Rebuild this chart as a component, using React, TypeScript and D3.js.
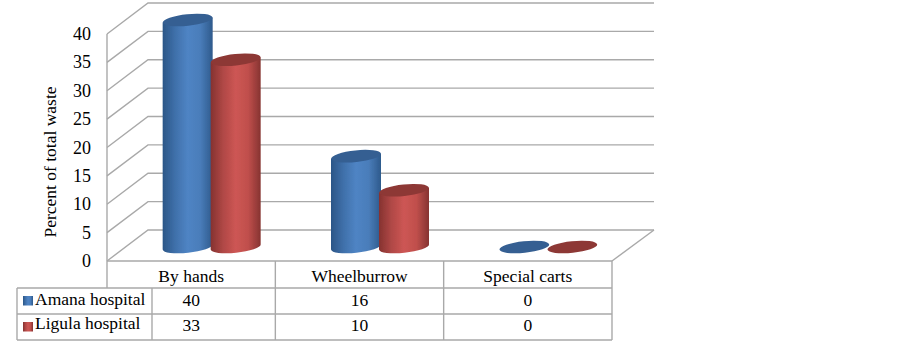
import React from "react";
import * as d3 from "d3";

const categories = ["By hands", "Wheelburrow", "Special carts"];
const seriesNames = ["Amana hospital", "Ligula hospital"];
const amana = [40, 16, 0];
const ligula = [33, 10, 0];
const yTicks = [0, 5, 10, 15, 20, 25, 30, 35, 40];

const colors = [
  { id: "blueSide", cap: "#355f92", stops: ["#2b5687", "#3f70aa", "#4f84c4", "#4a7dba", "#2e5a8c"] },
  { id: "redSide", cap: "#8d3836", stops: ["#853230", "#b04846", "#cd5654", "#c04f4c", "#863331"] },
];

const width = 903;
const height = 344;
const depthX = 41;
const depthY = -31;
const floorRight = 612;
const floorLeft = 107;
const tableLeft = 17;
const labelRight = 152;
const rowLines = [288, 314, 340];
const grey = "#a9a9a9";
const serif = "'Liberation Serif', serif";

const x = d3.scaleBand<string>().domain(categories).range([floorLeft, floorRight]);
const y = d3.scaleLinear().domain([0, 40]).range([261, 34]);

const rx = 25;
const ry = 5.8;
const tilt = -6;
const tipY = 2.6;

function Cylinder({ cx, value, s }: { cx: number; value: number; s: number }) {
  const cy0 = y(0) - 14;
  const cy1 = y(value) - 14;
  const c = colors[s];
  const side =
    `M${cx - rx},${cy1 + tipY} L${cx - rx},${cy0 + tipY} ` +
    `A${rx},${ry} ${tilt} 0 0 ${cx + rx},${cy0 - tipY} L${cx + rx},${cy1 - tipY} Z`;
  return (
    <g>
      {value > 0 && <path d={side} fill={`url(#${c.id})`} />}
      <ellipse cx={cx} cy={cy1} rx={rx} ry={ry} fill={c.cap} transform={`rotate(${tilt} ${cx} ${cy1})`} />
    </g>
  );
}

export default function App() {
  const bw = x.bandwidth();
  const values = [amana, ligula];
  const colEdges = [floorLeft, ...categories.map(d => (x(d) as number) + bw)];

  return (
    <svg
      width={width}
      height={height}
      style={{ position: "absolute", left: 0, top: 0, background: "#fff" }}
      fontFamily={serif}
      fill="#000"
    >
      <defs>
        {colors.map(c => (
          <linearGradient key={c.id} id={c.id} x1="0" x2="1" y1="0" y2="0">
            {c.stops.map((st, i) => (
              <stop key={i} offset={i / (c.stops.length - 1)} stopColor={st} />
            ))}
          </linearGradient>
        ))}
        <filter id="soft" x="-10%" y="-10%" width="120%" height="120%">
          <feGaussianBlur stdDeviation="0.5" />
        </filter>
      </defs>

      {/* walls and floor */}
      <g stroke={grey} strokeWidth={1.4} fill="none">
        {yTicks.map(t => (
          <path
            key={t}
            d={`M${floorLeft},${y(t)} L${floorLeft + depthX},${y(t) + depthY} L${floorRight + depthX + 1},${y(t) + depthY}`}
          />
        ))}
        <line x1={floorLeft} x2={floorLeft} y1={y(40)} y2={rowLines[0]} />
        <line x1={floorLeft} x2={floorRight} y1={y(0)} y2={y(0)} />
        <line x1={floorRight} x2={floorRight + depthX + 1} y1={y(0)} y2={y(0) + depthY} />
      </g>

      {/* cylinders */}
      <g filter="url(#soft)">
        {categories.map((cat, i) => {
          const mid = (x(cat) as number) + bw / 2 + depthX / 2;
          return (
            <g key={cat}>
              <Cylinder cx={mid - 24} value={values[0][i]} s={0} />
              <Cylinder cx={mid + 24} value={values[1][i]} s={1} />
            </g>
          );
        })}
      </g>

      {/* y axis */}
      <g fontSize={18} textAnchor="end">
        {yTicks.map(t => (
          <text key={t} x={91} y={y(t) + 6}>
            {t}
          </text>
        ))}
      </g>
      <text transform="translate(55.5,162) rotate(-90)" textAnchor="middle" fontSize={17.5}>
        Percent of total waste
      </text>

      {/* data table */}
      <g stroke={grey} strokeWidth={1.4} fill="none">
        {rowLines.map(r => (
          <line key={r} x1={tableLeft} x2={floorRight} y1={r} y2={r} />
        ))}
        <line x1={tableLeft} x2={tableLeft} y1={rowLines[0]} y2={rowLines[2]} />
        <line x1={labelRight} x2={labelRight} y1={rowLines[0]} y2={rowLines[2]} />
        {colEdges.slice(1).map(e => (
          <line key={e} x1={e} x2={e} y1={y(0)} y2={rowLines[2]} />
        ))}
      </g>
      <g fontSize={17.5} textAnchor="middle">
        {categories.map((cat, i) => {
          const mid = (x(cat) as number) + bw / 2;
          return (
            <g key={cat}>
              <text x={mid} y={282}>
                {cat}
              </text>
              <text x={mid} y={306}>
                {amana[i]}
              </text>
              <text x={mid} y={331}>
                {ligula[i]}
              </text>
            </g>
          );
        })}
      </g>

      {/* legend keys in the table */}
      {seriesNames.map((name, i) => (
        <g key={name}>
          <rect x={23} y={296 + i * 26} width={10} height={9.5} fill={`url(#${colors[i].id})`} />
          <text x={35} y={305 + i * 24} fontSize={17.5}>
            {name}
          </text>
        </g>
      ))}
    </svg>
  );
}
